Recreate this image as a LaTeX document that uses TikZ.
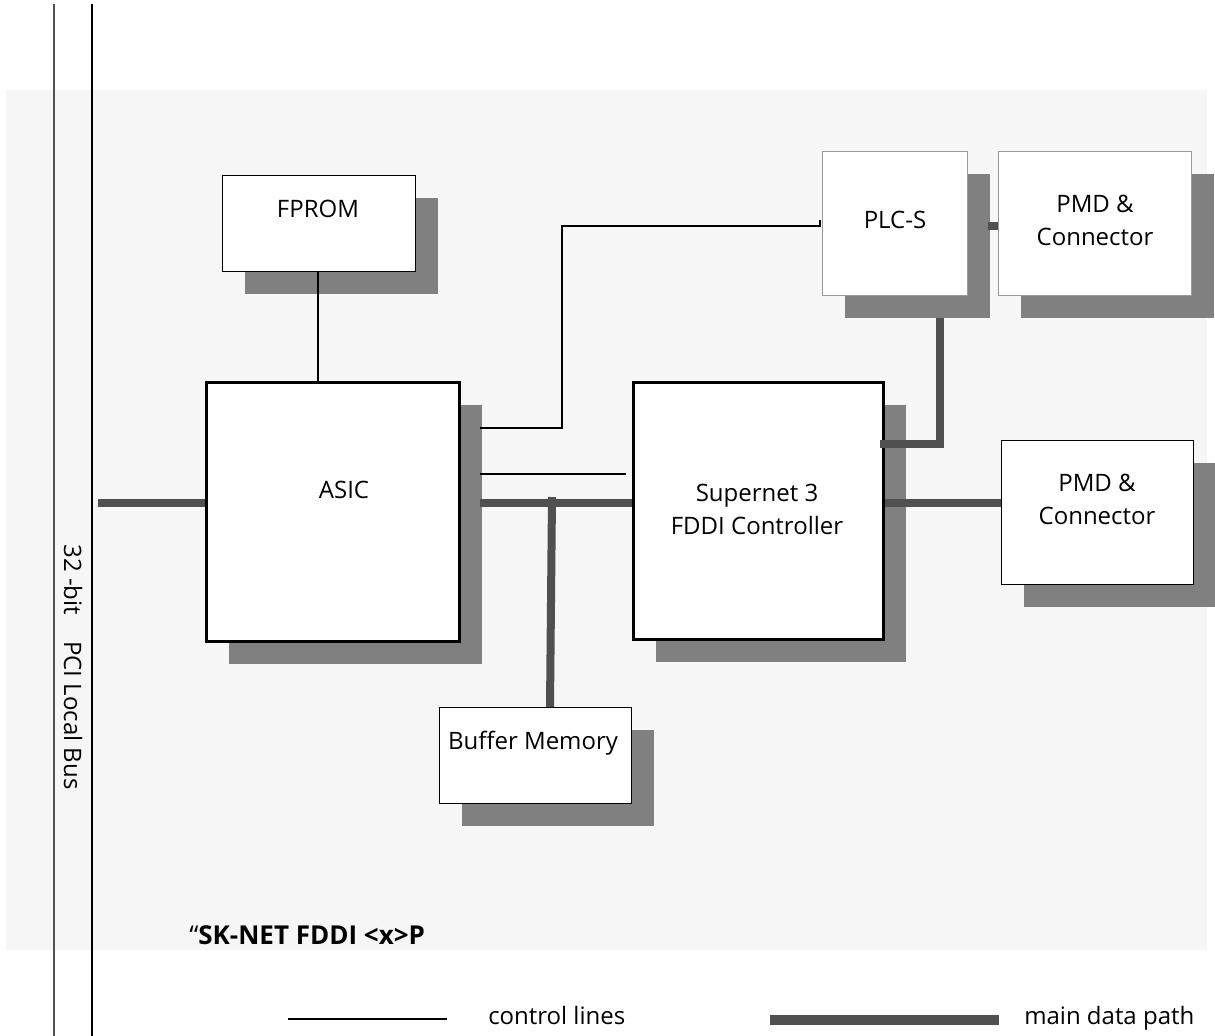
\documentclass[tikz,border=0pt]{standalone}
\usepackage{fontspec}
\setmainfont{Open Sans}
\usetikzlibrary{shadows}
\definecolor{panel}{HTML}{F6F6F6}
\definecolor{shad}{HTML}{808080}
\definecolor{datac}{HTML}{505050}
\definecolor{lightb}{HTML}{9A9A9A}
\begin{document}
\begin{tikzpicture}[x=0.75pt,y=-0.75pt,
  sbox/.style={fill=white, inner sep=0pt, anchor=north west,
    drop shadow={shadow xshift=16.5pt, shadow yshift=-16.5pt, fill=shad, opacity=1}},
  thinbox/.style={sbox, draw=black, line width=1pt},
  greybox/.style={sbox, draw=lightb, line width=0.9pt},
  boldbox/.style={sbox, draw=black, line width=2.3pt},
  lbl/.style={font=\fontsize{18pt}{24.75pt}\selectfont, inner sep=0pt, align=center},
  ctrl/.style={draw=black, line width=1pt},
  datap/.style={draw=datac, line width=6pt}]
\useasboundingbox (0,0) rectangle (1215,1036);
\fill[panel] (6,90) rectangle (1207,950);
% bus lines
\coordinate (busAtop) at (54,4);
\coordinate (busAbot) at (54,1036);
\coordinate (busBtop) at (92,4);
\coordinate (busBbot) at (92,1036);
\draw[datac, line width=1.8pt] (busAtop) -- (busAbot);
\draw[black, line width=1.1pt] (busBtop) -- (busBbot);
\node[lbl, rotate=-90] (buslbl) at (73,667) {32 -bit\hspace{1.1em}PCI Local Bus};
% boxes
\node[thinbox, minimum width=144.75pt, minimum height=72pt] (fprom) at (222,175) {};
\node[boldbox, minimum width=189.75pt, minimum height=194.25pt] (asic) at (205,381) {};
\node[boldbox, minimum width=187.5pt, minimum height=192.75pt] (snet) at (632,381) {};
\node[greybox, minimum width=108.75pt, minimum height=108pt] (plc) at (822,151) {};
\node[greybox, minimum width=144.75pt, minimum height=108pt] (pmdA) at (998,151) {};
\node[thinbox, minimum width=144pt, minimum height=108pt] (pmdB) at (1001,440) {};
\node[thinbox, minimum width=144pt, minimum height=72pt] (buf) at (439,707) {};
% labels
\node[lbl, anchor=base] (tfprom) at (318,217) {FPROM};
\node[lbl, anchor=base] (tasic) at (344,498) {ASIC};
\node[lbl] (tsnet) at (757,509) {Supernet 3\\FDDI Controller};
\node[lbl, anchor=base] (tplc) at (895,228) {PLC-S};
\node[lbl] (tpmdA) at (1095,220) {PMD \&\\Connector};
\node[lbl] (tpmdB) at (1097,499) {PMD \&\\Connector};
\node[lbl, anchor=base] (tbuf) at (533,749) {Buffer Memory};
\node[lbl, anchor=base west, font=\fontsize{19.5pt}{24pt}\selectfont] (tname) at (189,944) {“\textbf{SK-NET FDDI <x>P}};
% control lines
\coordinate (c1a) at (480,428);
\coordinate (c1b) at (562,428);
\coordinate (c1c) at (562,226);
\coordinate (c1d) at (820,226);
\coordinate (c1e) at (820,220);
\draw[ctrl] (c1a) -- (c1b) -- (c1c) -- (c1d) -- (c1e);
\coordinate (c2a) at (480,474);
\coordinate (c2b) at (626,474);
\draw[ctrl] (c2a) -- (c2b);
\draw[ctrl] (fprom.south -| 318,0) -- (asic.north -| 318,0);
% data paths
\coordinate (d0) at (98,503);
\draw[datap] (d0) -- (asic.west |- d0);
\coordinate (d1) at (480,503);
\draw[datap] (d1) -- (snet.west |- d1);
\coordinate (dm) at (552,497);
\coordinate (dmb) at (550,707);
\draw[datap] (dm) -- (dmb);
\draw[datap] (snet.east |- d1) -- (pmdB.west |- d1);
\coordinate (p1) at (880,444);
\coordinate (p2) at (940,444);
\coordinate (p3) at (940,318);
\draw[datap] (p1) -- (p2) -- (p3);
\coordinate (q1) at (988,226);
\draw[datap] (q1) -- (pmdA.west |- q1);
% legend
\coordinate (l1) at (288,1019);
\coordinate (l2) at (447,1019);
\draw[ctrl] (l1) -- (l2);
\node[lbl, anchor=base west] (tctrl) at (488,1024) {control lines};
\coordinate (l3) at (770,1020);
\coordinate (l4) at (999,1020);
\draw[datap, line width=7pt] (l3) -- (l4);
\node[lbl, anchor=base west] (tdata) at (1024,1024) {main data path};
\end{tikzpicture}
\end{document}
